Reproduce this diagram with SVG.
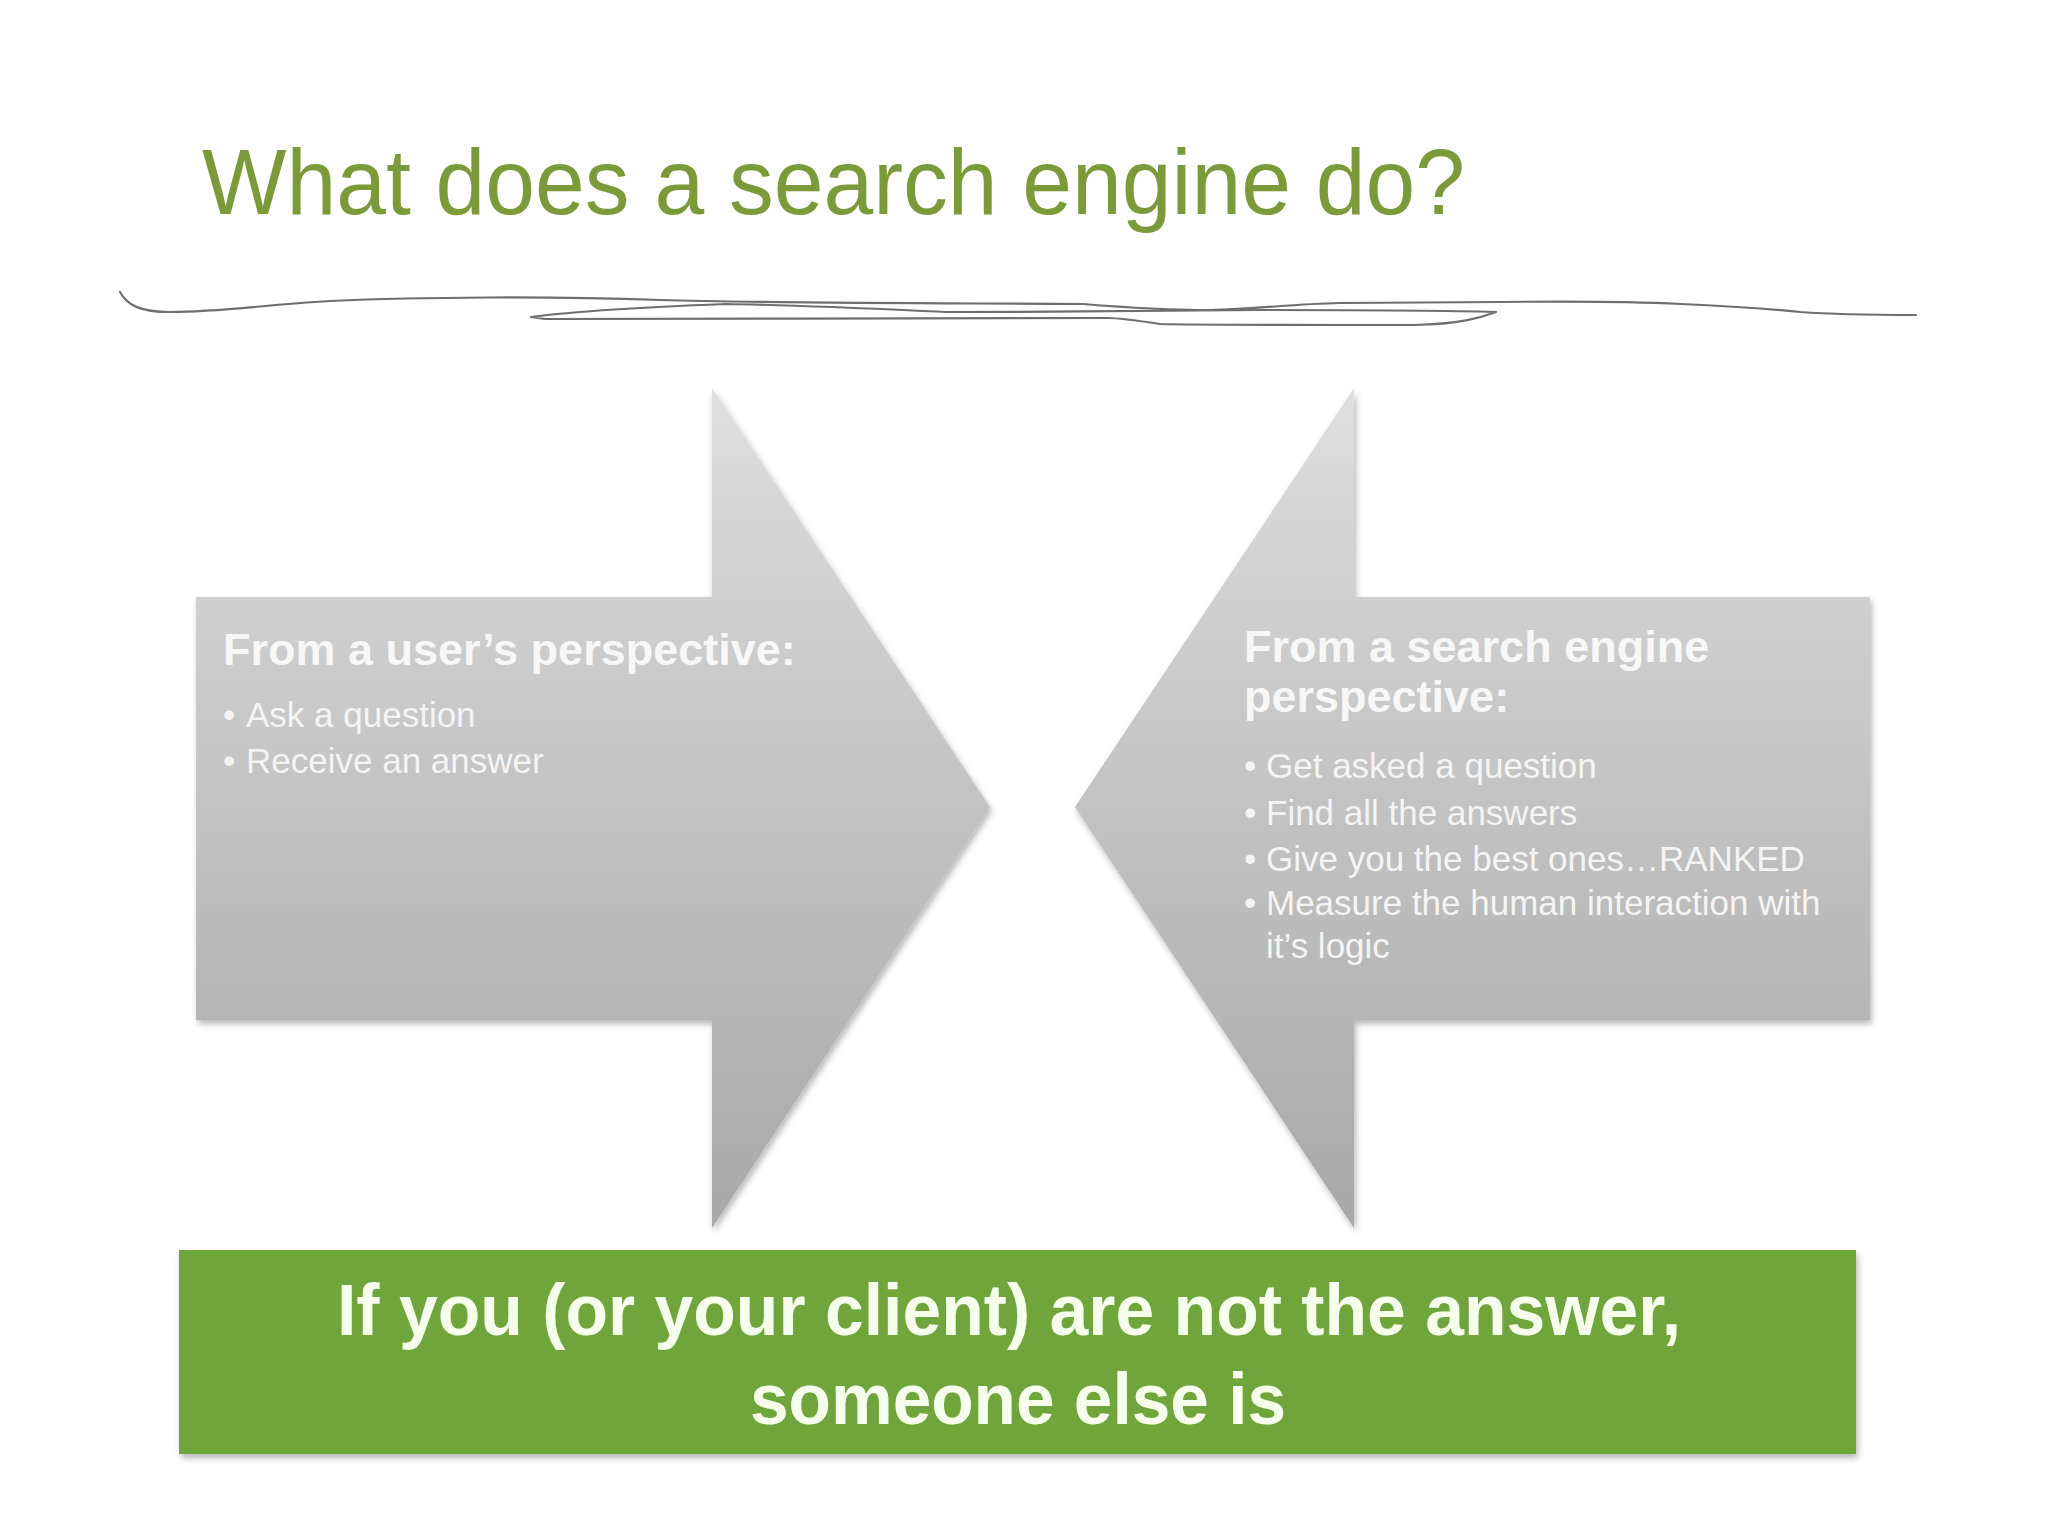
<svg xmlns="http://www.w3.org/2000/svg" width="2048" height="1536" viewBox="0 0 2048 1536">
<defs>
  <linearGradient id="gArrow" x1="0" y1="388" x2="0" y2="1228" gradientUnits="userSpaceOnUse">
    <stop offset="0" stop-color="#dfdfdf"/>
    <stop offset="0.3" stop-color="#cdcdcd"/>
    <stop offset="1" stop-color="#a8a8a8"/>
  </linearGradient>
  <filter id="shadow" x="-5%" y="-5%" width="110%" height="115%">
    <feDropShadow dx="2" dy="4" stdDeviation="3" flood-color="#000" flood-opacity="0.28"/>
  </filter>
  <style>
    .arrow { fill: url(#gArrow); filter: url(#shadow); }
    .head { font-family: "Liberation Sans", Arial, sans-serif; font-weight: bold; font-size: 45px; fill: #f7f7f7; }
    .item { font-family: "Liberation Sans", Arial, sans-serif; font-size: 35px; fill: #f4f4f4; }
    .scribble { fill: none; stroke: #6e6e6e; stroke-width: 2.2; stroke-linecap: round; stroke-linejoin: round; }
  </style>
</defs>
<rect x="0" y="0" width="2048" height="1536" fill="#ffffff"/>

<g id="title">
  <text x="202" y="214" font-family="Liberation Sans, Arial, sans-serif" font-size="92" fill="#7b9b3a" textLength="1263" lengthAdjust="spacingAndGlyphs">What does a search engine do?</text>
</g>

<g id="underline-scribble">
  <path class="scribble" d="M120,292 C127,305 140,312 170,312 C220,312 262,305 330,301 C420,297 550,296 660,300 C760,303 900,303 1083,304 C1120,307 1160,310 1210,310 C1260,309 1290,304 1340,303 L1500,302 C1580,301 1640,302 1681,304 C1730,306 1770,309 1800,312 C1840,315 1880,315 1916,315"/>
  <path class="scribble" d="M531,317 C570,312 620,308 725,304 C800,305 900,310 945,312 C1050,312 1150,311 1260,310 C1350,310 1430,310 1496,312 C1480,318 1460,324 1414,325 C1330,325 1200,325 1160,324 C1140,321 1120,318 1108,318 C1000,318 700,319 545,319 Z"/>
</g>

<g id="user-arrow">
  <polygon class="arrow" points="196,597 712,597 712,388 990,807 712,1228 712,1020 196,1020"/>
  <text class="head" x="223" y="665">From a user’s perspective:</text>
  <text class="item" x="223" y="727">•</text>
  <text class="item" x="246" y="727">Ask a question</text>
  <text class="item" x="223" y="773">•</text>
  <text class="item" x="246" y="773">Receive an answer</text>
</g>

<g id="engine-arrow">
  <polygon class="arrow" points="1870,597 1354,597 1354,388 1075,807 1354,1228 1354,1020 1870,1020"/>
  <text class="head" x="1244" y="662">From a search engine</text>
  <text class="head" x="1244" y="712">perspective:</text>
  <text class="item" x="1244" y="778">•</text>
  <text class="item" x="1266" y="778">Get asked a question</text>
  <text class="item" x="1244" y="825">•</text>
  <text class="item" x="1266" y="825">Find all the answers</text>
  <text class="item" x="1244" y="871">•</text>
  <text class="item" x="1266" y="871">Give you the best ones…RANKED</text>
  <text class="item" x="1244" y="915">•</text>
  <text class="item" x="1266" y="915">Measure the human interaction with</text>
  <text class="item" x="1266" y="958">it’s logic</text>
</g>

<g id="conclusion">
  <rect x="179" y="1250" width="1677" height="204" fill="#6fa53a" filter="url(#shadow)"/>
  <text x="1009" y="1335" text-anchor="middle" font-family="Liberation Sans, Arial, sans-serif" font-weight="bold" font-size="72" fill="#f6ffec" textLength="1344" lengthAdjust="spacingAndGlyphs">If you (or your client) are not the answer,</text>
  <text x="1018" y="1424" text-anchor="middle" font-family="Liberation Sans, Arial, sans-serif" font-weight="bold" font-size="72" fill="#f6ffec" textLength="536" lengthAdjust="spacingAndGlyphs">someone else is</text>
</g>
</svg>
